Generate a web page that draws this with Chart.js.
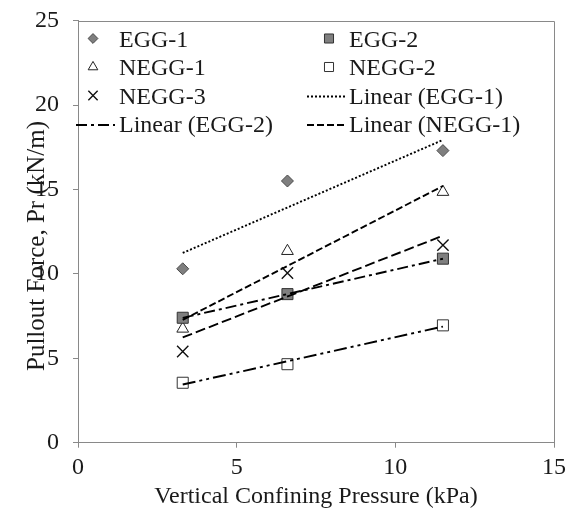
<!DOCTYPE html>
<html>
<head>
<meta charset="utf-8">
<script src="https://cdn.jsdelivr.net/npm/chart.js@4.4.0/dist/chart.umd.min.js"></script>
<style>
    html, body { margin: 0; padding: 0; background: #fff; }
    #wrap { width: 571px; height: 509px; }
</style>
</head>
<body>
<div id="wrap"><canvas id="pulloutChart" width="571" height="509"></canvas></div>
<script>
// Vertical confining pressure (kPa)
const pressures = [3.3, 6.6, 11.5];

// Pullout force, Pr (kN/m)
const egg1 = [10.3, 15.5, 17.3];
const egg2 = [7.4, 8.8, 10.9];
const negg1 = [6.75, 11.35, 14.85];
const negg2 = [3.55, 4.65, 6.95];
const negg3 = [5.4, 10.05, 11.7];

const xTicks = [0, 5, 10, 15];
const yTicks = [0, 5, 10, 15, 20, 25];

const FONT = "'Liberation Serif', 'Times New Roman', serif";
const TEXT = '#1a1a1a';
const AXIS = '#898989';

// least squares line over the measured range, like an Excel trendline
function linearFit(xs, ys) {
    const n = xs.length;
    const mx = xs.reduce((a, b) => a + b, 0) / n;
    const my = ys.reduce((a, b) => a + b, 0) / n;
    let sxy = 0, sxx = 0;
    xs.forEach((x, i) => {
        sxy += (x - mx) * (ys[i] - my);
        sxx += (x - mx) * (x - mx);
    });
    const slope = sxy / sxx;
    return [xs[0], xs[n - 1]].map(x => ({ x: x, y: my + slope * (x - mx) }));
}

function points(ys) {
    return pressures.map((x, i) => ({ x: x, y: ys[i] }));
}

function markerSet(label, ys, style, radius, fill, stroke, width) {
    return {
        label: label,
        data: points(ys),
        showLine: false,
        pointStyle: style,
        pointRadius: radius,
        pointHoverRadius: radius,
        pointBackgroundColor: fill,
        pointBorderColor: stroke,
        pointBorderWidth: width,
        order: 1
    };
}

function trendSet(label, ys, dash) {
    return {
        label: label,
        data: linearFit(pressures, ys),
        showLine: true,
        borderColor: '#000',
        borderWidth: 1.9,
        borderDash: dash,
        pointRadius: 0,
        fill: false,
        order: 0
    };
}

const datasets = [
    markerSet('EGG-1', egg1, 'rectRot', 6, '#7f7f7f', '#4a4a4a', 1),
    markerSet('EGG-2', egg2, 'rect', 7.8, '#7f7f7f', '#333', 1),
    markerSet('NEGG-1', negg1, 'triangle', 6.8, '#fff', '#222', 1),
    markerSet('NEGG-2', negg2, 'rect', 7.8, '#fff', '#333', 1),
    markerSet('NEGG-3', negg3, 'crossRot', 8, '#fff', '#111', 1.4),
    trendSet('Linear (EGG-1)', egg1, [2, 2]),
    trendSet('Linear (EGG-2)', egg2, [11, 4, 3, 4]),
    trendSet('Linear (NEGG-1)', negg1, [7, 3]),
    trendSet('Linear (NEGG-2)', negg2, [13, 4, 3, 4, 3, 4]),
    trendSet('Linear (NEGG-3)', negg3, [10, 4])
];

// two-column legend, only the first eight entries fit (as in the original)
const legendCols = [{ marker: 93, lineFrom: 76, lineTo: 115, text: 119 },
                    { marker: 329, lineFrom: 307, lineTo: 347, text: 349 }];
const legendRows = [38.5, 67, 95.5, 124];

const frameAndLegend = {
    id: 'frameAndLegend',
    afterDraw(chart) {
        const ctx = chart.ctx;
        const area = chart.chartArea;

        // top and right edges of the plot frame
        ctx.save();
        ctx.strokeStyle = AXIS;
        ctx.lineWidth = 1;
        ctx.beginPath();
        ctx.moveTo(area.left, Math.round(area.top) + 0.5);
        ctx.lineTo(Math.round(area.right) + 0.5, Math.round(area.top) + 0.5);
        ctx.lineTo(Math.round(area.right) + 0.5, area.bottom);
        ctx.stroke();
        ctx.restore();

        // legend
        ctx.save();
        ctx.font = '24px ' + FONT;
        ctx.fillStyle = TEXT;
        ctx.textBaseline = 'alphabetic';
        chart.data.datasets.slice(0, 8).forEach((ds, i) => {
            const col = legendCols[i % 2];
            const y = legendRows[Math.floor(i / 2)];
            ctx.save();
            if (ds.showLine) {
                ctx.strokeStyle = ds.borderColor;
                ctx.lineWidth = ds.borderWidth;
                ctx.setLineDash(ds.borderDash);
                ctx.beginPath();
                ctx.moveTo(col.lineFrom, y + 1);
                ctx.lineTo(col.lineTo, y + 1);
                ctx.stroke();
            } else {
                ctx.fillStyle = ds.pointBackgroundColor;
                ctx.strokeStyle = ds.pointBorderColor;
                ctx.lineWidth = ds.pointBorderWidth;
                Chart.helpers.drawPoint(ctx, {
                    pointStyle: ds.pointStyle,
                    radius: ds.pointRadius * 0.82,
                    rotation: 0,
                    borderWidth: ds.pointBorderWidth
                }, col.marker, y);
            }
            ctx.restore();
            ctx.fillText(ds.label, col.text, y + 8);
        });

        // axis titles
        ctx.textAlign = 'center';
        ctx.fillText('Vertical Confining Pressure (kPa)', (area.left + area.right) / 2, 503);
        ctx.font = '25px ' + FONT;
        ctx.translate(44, 246);
        ctx.rotate(-Math.PI / 2);
        ctx.fillText('Pullout Force, Pr (kN/m)', 0, 0);
        ctx.restore();
    }
};

new Chart(document.getElementById('pulloutChart').getContext('2d'), {
    type: 'scatter',
    data: { datasets: datasets },
    options: {
        responsive: false,
        animation: false,
        events: [],
        layout: { padding: { left: 0, right: 17, top: 20.6, bottom: 0 } },
        plugins: {
            legend: { display: false },
            tooltip: { enabled: false }
        },
        scales: {
            x: {
                type: 'linear',
                min: 0,
                max: 15,
                afterBuildTicks: s => { s.ticks = xTicks.map(v => ({ value: v })); },
                afterFit: s => { s.height = 66.3; s.paddingLeft = 0; s.paddingRight = 0; },
                grid: { drawOnChartArea: false, drawTicks: true, tickLength: 5, color: AXIS },
                border: { display: true, color: AXIS, width: 1 },
                ticks: { color: TEXT, font: { family: FONT, size: 24 }, padding: 6, maxRotation: 0 }
            },
            y: {
                type: 'linear',
                min: 0,
                max: 25,
                afterBuildTicks: s => { s.ticks = yTicks.map(v => ({ value: v })); },
                afterFit: s => { s.width = 78; s.paddingTop = 0; s.paddingBottom = 0; },
                grid: { drawOnChartArea: false, drawTicks: true, tickLength: 5, color: AXIS },
                border: { display: true, color: AXIS, width: 1 },
                ticks: { color: TEXT, font: { family: FONT, size: 24 }, padding: 14 }
            }
        }
    },
    plugins: [frameAndLegend]
});
</script>
</body>
</html>
